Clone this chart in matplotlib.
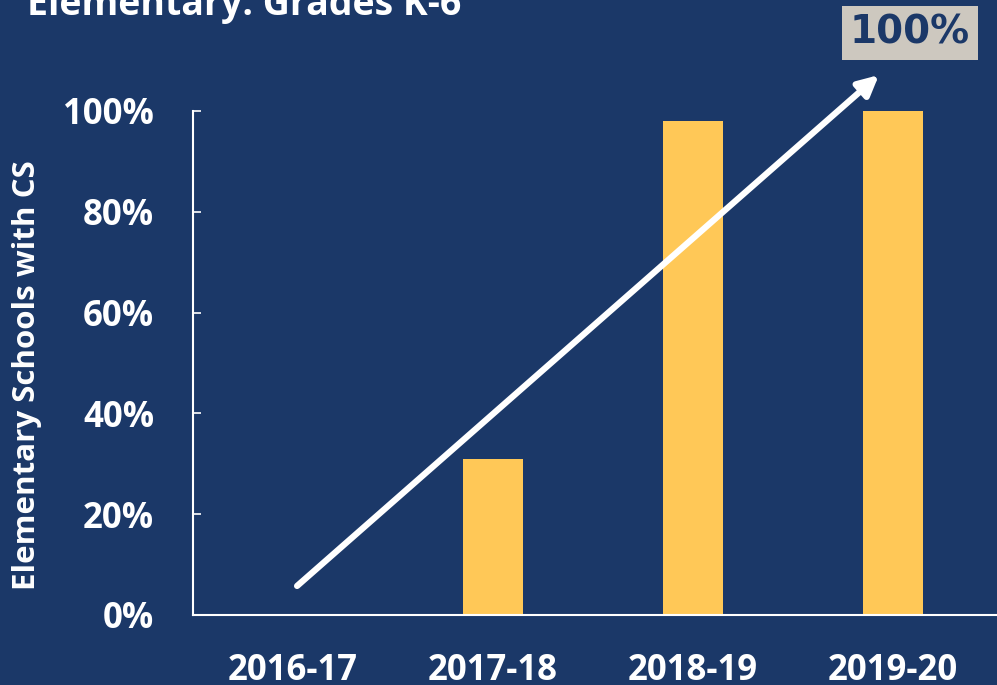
import matplotlib.pyplot as plt
from matplotlib.ticker import PercentFormatter

years = ["2016-17", "2017-18", "2018-19", "2019-20"]
pct_with_cs = [0, 31, 98, 100]
yticks = [0, 20, 40, 60, 80, 100]

navy = "#1b3868"
gold = "#ffc857"
plt.rcParams["font.family"] = ["Open Sans", "DejaVu Sans"]

fig = plt.figure(figsize=(9.97, 6.85), dpi=100, facecolor=navy)
ax = fig.add_axes([193 / 997, 70 / 685, 804 / 997, 504 / 685])
ax.set_facecolor(navy)

x = range(len(years))
ax.bar(x, pct_with_cs, width=0.3, color=gold, zorder=2)

ax.set_xlim(-0.5, 3.52)
ax.set_ylim(0, 100)
ax.set_yticks(yticks)
ax.yaxis.set_major_formatter(PercentFormatter(decimals=0))
ax.set_xticks(list(x))
ax.set_xticklabels(years)

for s in ["top", "right"]:
    ax.spines[s].set_visible(False)
for s in ["left", "bottom"]:
    ax.spines[s].set_color("white")
    ax.spines[s].set_linewidth(1.5)

ax.tick_params(axis="y", direction="in", length=6, width=1.2, color="white",
               labelcolor="white", labelsize=25, pad=28)
ax.tick_params(axis="x", length=0, labelcolor="white", labelsize=25, pad=27)
for lab in ax.get_xticklabels() + ax.get_yticklabels():
    lab.set_fontweight("bold")

ax.set_ylabel("Elementary Schools with CS", color="white", fontsize=22.5,
              fontweight="bold")
ax.yaxis.set_label_coords(-151 / 804, 0.476)

# trend arrow
ax.annotate("", xy=(2.94, 107.5), xytext=(0.01, 5.4),
            arrowprops=dict(arrowstyle="-|>", color="white", lw=4.5,
                            mutation_scale=30),
            annotation_clip=False, zorder=3)

fig.text(910 / 997, 1 - 33 / 685, "100%", ha="center", va="center",
         fontsize=28, fontweight="black", color=navy,
         family=["DejaVu Sans"],
         bbox=dict(boxstyle="square,pad=0.2", facecolor="#cdc8bf",
                   edgecolor="none"))

fig.text(27 / 997, 1 - 15 / 685, "Elementary: Grades K-6", ha="left",
         va="baseline", fontsize=27, fontweight="bold", color="white")

fig.savefig("out.png", dpi=100, facecolor=navy)
